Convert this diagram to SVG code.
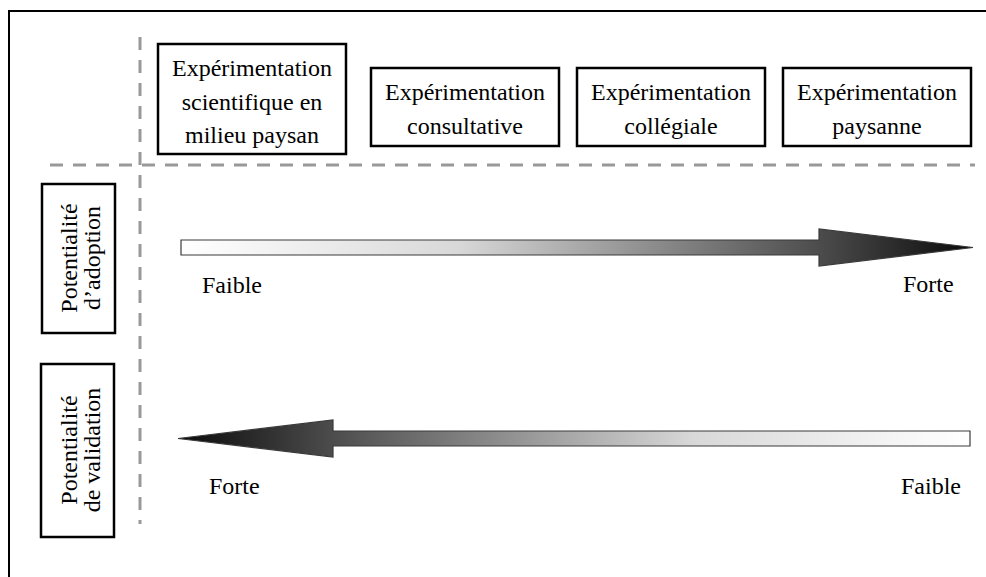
<svg xmlns="http://www.w3.org/2000/svg" width="986" height="577" viewBox="0 0 986 577">
  <defs>
    <style>
      .box { fill: #ffffff; stroke: #000000; stroke-width: 2.5; }
      .lbl { font-family: "Liberation Serif", "Times New Roman", serif; font-size: 24px; fill: #000000; }
      .mid { text-anchor: middle; }
      .guide { fill: none; stroke: #999999; stroke-width: 3; stroke-dasharray: 13 10; }
      .arrow { stroke: #3a3a3a; stroke-width: 1.2; }
    </style>
    <!-- adoption arrow: pale on the left, dark at the tip -->
    <linearGradient id="gradRight" gradientUnits="userSpaceOnUse" x1="181" y1="0" x2="973" y2="0">
      <stop offset="0" stop-color="#ffffff"/>
      <stop offset="0.35" stop-color="#d8d8d8"/>
      <stop offset="0.8" stop-color="#4e4e4e"/>
      <stop offset="1" stop-color="#0a0a0a"/>
    </linearGradient>
    <!-- validation arrow: dark at the tip on the left, pale on the right -->
    <linearGradient id="gradLeft" gradientUnits="userSpaceOnUse" x1="970" y1="0" x2="178" y2="0">
      <stop offset="0" stop-color="#ffffff"/>
      <stop offset="0.35" stop-color="#d8d8d8"/>
      <stop offset="0.8" stop-color="#4e4e4e"/>
      <stop offset="1" stop-color="#0a0a0a"/>
    </linearGradient>
  </defs>

  <rect width="986" height="577" fill="#ffffff"/>

  <!-- outer frame (left and top edges) -->
  <path d="M9,577 V11 H986" fill="none" stroke="#000000" stroke-width="2"/>

  <!-- grid guides -->
  <g id="guides">
    <line class="guide" x1="140" y1="37" x2="140" y2="524"/>
    <line class="guide" x1="50" y1="165" x2="975" y2="165"/>
  </g>

  <!-- experimentation types -->
  <g id="exp-scientifique">
    <rect class="box" x="158" y="44" width="188" height="110"/>
    <text class="lbl mid" x="252" y="76">Expérimentation</text>
    <text class="lbl mid" x="252" y="110">scientifique en</text>
    <text class="lbl mid" x="252" y="143">milieu paysan</text>
  </g>
  <g id="exp-consultative">
    <rect class="box" x="371" y="68" width="188" height="78"/>
    <text class="lbl mid" x="465" y="100">Expérimentation</text>
    <text class="lbl mid" x="465" y="134">consultative</text>
  </g>
  <g id="exp-collegiale">
    <rect class="box" x="577" y="68" width="188" height="78"/>
    <text class="lbl mid" x="671" y="100">Expérimentation</text>
    <text class="lbl mid" x="671" y="134">collégiale</text>
  </g>
  <g id="exp-paysanne">
    <rect class="box" x="783" y="68" width="188" height="78"/>
    <text class="lbl mid" x="877" y="100">Expérimentation</text>
    <text class="lbl mid" x="877" y="134">paysanne</text>
  </g>

  <!-- row headers -->
  <g id="pot-adoption">
    <rect class="box" x="42" y="184" width="73" height="149"/>
    <text class="lbl mid" transform="translate(77,258) rotate(-90)">Potentialité</text>
    <text class="lbl mid" transform="translate(100,258) rotate(-90)">d’adoption</text>
  </g>
  <g id="pot-validation">
    <rect class="box" x="41" y="364" width="73" height="173"/>
    <text class="lbl mid" transform="translate(77,450) rotate(-90)">Potentialité</text>
    <text class="lbl mid" transform="translate(100,450) rotate(-90)">de validation</text>
  </g>

  <!-- gradient arrows -->
  <g id="connectors">
    <polygon class="arrow" fill="url(#gradRight)" points="181,240 819,240 819,229 973,247.5 819,266 819,255 181,255"/>
    <polygon class="arrow" fill="url(#gradLeft)" points="970,431 333,431 333,420 178,438.5 333,457 333,446 970,446"/>
  </g>

  <!-- scale labels -->
  <g id="scale-labels">
    <text class="lbl" x="202" y="293">Faible</text>
    <text class="lbl" x="903" y="292">Forte</text>
    <text class="lbl" x="209" y="494">Forte</text>
    <text class="lbl" x="901" y="494">Faible</text>
  </g>
</svg>
